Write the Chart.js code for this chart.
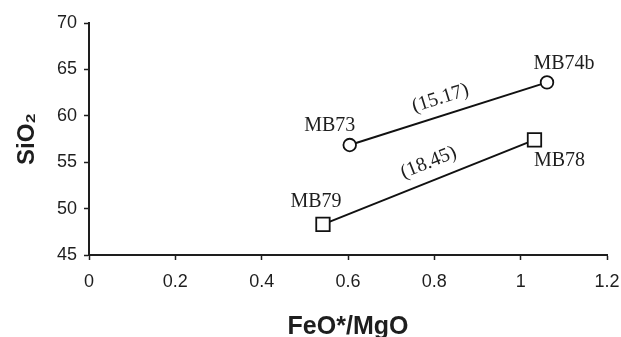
<!DOCTYPE html>
<html>
<head>
<meta charset="utf-8">
<script src="https://cdn.jsdelivr.net/npm/chart.js@4.4.1/dist/chart.umd.min.js"></script>
<style>
  html, body { margin: 0; padding: 0; background: #fff; }
  #wrap { width: 621px; height: 337px; }
</style>
</head>
<body>
<div id="wrap"><canvas id="chart"></canvas></div>
<script>
// FeO*/MgO vs SiO2, two sample pairs
const circleX = [0.604, 1.061];
const circleY = [56.85, 63.6];
const circleNames = ['MB73', 'MB74b'];
const squareX = [0.542, 1.032];
const squareY = [48.3, 57.4];
const squareNames = ['MB79', 'MB78'];
const slopeLabels = ['(15.17)', '(18.45)'];
const xTickLabels = ['0', '0.2', '0.4', '0.6', '0.8', '1', '1.2'];
const yTickLabels = ['45', '50', '55', '60', '65', '70'];

const INK = '#1e1e1e';
const SANS = "'Liberation Sans', Arial, sans-serif";
const SERIF = "'Liberation Serif', 'Times New Roman', serif";

// pixel offsets of the sample names from their markers
const nameOffsets = [
    [[-20, -19], [17, -19]],
    [[-7, -23], [25, 21]],
];
// slope label: shift along the segment, distance above it
const slopeOffsets = [[-3, 17], [7, 18]];

function toPoints(xs, ys) {
    return xs.map((x, i) => ({ x, y: ys[i] }));
}

const labelPlugin = {
    id: 'sampleLabels',
    afterDatasetsDraw(chart) {
        const ctx = chart.ctx;
        const names = [circleNames, squareNames];
        ctx.save();
        ctx.fillStyle = INK;
        ctx.font = '20px ' + SERIF;
        ctx.textAlign = 'center';
        ctx.textBaseline = 'middle';
        chart.data.datasets.forEach((ds, d) => {
            const pts = chart.getDatasetMeta(d).data;
            pts.forEach((p, i) => {
                const [dx, dy] = nameOffsets[d][i];
                ctx.fillText(names[d][i], p.x + dx, p.y + dy);
            });
            // slope value along the segment
            const a = pts[0], b = pts[1];
            const ang = Math.atan2(b.y - a.y, b.x - a.x);
            const [along, up] = slopeOffsets[d];
            const mx = (a.x + b.x) / 2 + Math.cos(ang) * along + Math.sin(ang) * up;
            const my = (a.y + b.y) / 2 + Math.sin(ang) * along - Math.cos(ang) * up;
            ctx.save();
            ctx.translate(mx, my);
            ctx.rotate(ang);
            ctx.fillText(slopeLabels[d], 0, 0);
            ctx.restore();
        });
        ctx.restore();
    },
};

const seriesStyle = {
    showLine: true,
    borderColor: '#111',
    borderWidth: 2,
    pointBorderColor: '#111',
    pointBackgroundColor: '#fff',
    pointBorderWidth: 1.8,
};

new Chart(document.getElementById('chart'), {
    type: 'scatter',
    data: {
        datasets: [
            { ...seriesStyle, label: 'circles', data: toPoints(circleX, circleY), pointStyle: 'circle', pointRadius: 6.3 },
            { ...seriesStyle, label: 'squares', data: toPoints(squareX, squareY), pointStyle: 'rect', pointRadius: 9.5 },
        ],
    },
    options: {
        responsive: true,
        maintainAspectRatio: false,
        animation: false,
        layout: { padding: { left: 0, right: 14, top: 23, bottom: 0 } },
        plugins: { legend: { display: false }, tooltip: { enabled: false } },
        scales: {
            x: {
                type: 'linear',
                min: 0,
                max: 1.2,
                afterFit: s => { s.height = 82; s.paddingLeft = 0; s.paddingRight = 0; },
                border: { display: true, color: INK, width: 2 },
                grid: { display: true, drawOnChartArea: false, drawTicks: true, tickLength: 5, tickColor: INK, tickWidth: 1.5 },
                ticks: {
                    stepSize: 0.2, autoSkip: false, maxRotation: 0, padding: 11,
                    color: INK, font: { family: SANS, size: 18 },
                    callback: (v, i) => xTickLabels[i] ?? v,
                },
                title: {
                    display: true, text: 'FeO*/MgO', color: INK,
                    font: { family: SANS, size: 25, weight: 'bold', lineHeight: 0.76 },
                    padding: { top: 0, bottom: 0 },
                },
            },
            y: {
                min: 45,
                max: 70,
                afterFit: s => { s.width = 89; s.paddingTop = 0; s.paddingBottom = 0; },
                border: { display: true, color: INK, width: 2 },
                grid: { display: true, drawOnChartArea: false, drawTicks: true, tickLength: 5, tickColor: INK, tickWidth: 1.5 },
                ticks: {
                    stepSize: 5, padding: 7,
                    color: INK, font: { family: SANS, size: 18 },
                    callback: (v, i) => yTickLabels[i] ?? v,
                },
                title: {
                    display: true, text: 'SiO₂', color: INK,
                    font: { family: SANS, size: 24, weight: 'bold', lineHeight: 1 },
                    padding: { top: 15, bottom: 0 },
                },
            },
        },
    },
    plugins: [labelPlugin],
});
</script>
</body>
</html>
